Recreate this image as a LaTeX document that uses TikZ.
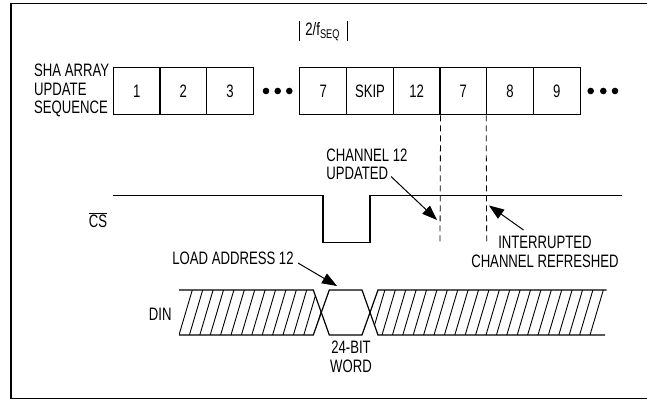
\documentclass[tikz,border=0pt]{standalone}
\usepackage{fontspec}
\setmainfont[FakeStretch=0.73]{Liberation Sans}
\usetikzlibrary{arrows.meta}
\usetikzlibrary{calc}

\tikzset{
  lbl/.style={inner sep=0pt, font=\fontsize{18}{18.5}\selectfont},
  cell/.style={lbl, draw, line width=1pt, minimum width=46.67pt, minimum height=47.3pt},
  pointer/.style={line width=1pt, -{Triangle[length=15pt,width=11pt]}},
  guide/.style={line width=0.8pt, dash pattern=on 6pt off 4pt},
  wave/.style={line width=1.2pt},
  hatch/.style={line width=0.9pt},
}

\begin{document}
\begin{tikzpicture}[x=1pt, y=-1pt]
    \useasboundingbox (0,0) rectangle (647,401);
    % frame, open on the right
    \draw[line width=1.8pt] (648,3.5) -- (11,3.5) -- (11,398.5) -- (648,398.5);

    % update sequence
    \node[lbl, anchor=west, align=left] (seq) at (34,90.5) {SHA ARRAY\\UPDATE\\SEQUENCE};
    \foreach \x/\t/\n in {136.7/1/c1, 183.3/2/c2, 230.0/3/c3,
                         323.3/7/c7, 370.0/SKIP/cskip, 416.7/12/c12,
                         463.3/7/c7b, 510.0/8/c8, 556.7/9/c9}
        \node[cell] (\n) at (\x,91.3) {\t};
    \foreach \x in {266.0, 277.7, 289.3, 590.7, 603.3, 615.0}
        \fill (\x,91) circle (3.3pt);

    % period marker
    \node[lbl] (per) at (322.7,32) {2/f\textsubscript{SEQ}};
    \draw[line width=1pt] ($(c7.north west)+(0,-25.7)$) -- ++(0,-20);
    \draw[line width=1pt] ($(c7.north east)+(0,-25.7)$) -- ++(0,-20);

    % guide lines
    \coordinate (g1) at (440,245);
    \coordinate (g2) at (486.7,245);
    \draw[guide] (c12.south east) -- (g1);
    \draw[guide] (c8.south west) -- (g2);

    % chip select
    \node[lbl] (cs) at (98,220) {$\overline{\mbox{CS}}$};
    \draw[wave] (113.3,195.7) -- (323,195.7) -- (323,242.7) -- (370,242.7)
                -- (370,195.7) -- (621.7,195.7);

    \node[lbl, anchor=west, align=left] (upd) at (326.2,164.5) {CHANNEL 12\\UPDATED};
    \coordinate (updA) at (391,176.5);
    \coordinate (updB) at (437,220);
    \draw[pointer] (updA) -- (updB);

    \node[lbl, align=center] (ref) at (545,252) {INTERRUPTED\\CHANNEL REFRESHED};
    \coordinate (refA) at (523.5,230);
    \coordinate (refB) at (489,205.5);
    \draw[pointer] (refA) -- (refB);

    % data in
    \node[lbl] (din) at (160.3,314) {DIN};
    \begin{scope}
        \clip (179,290) -- (313.3,290) -- (321.3,312.5) -- (313.3,335) -- (179,335) -- cycle;
        \foreach \k in {0,...,13}
            \draw[hatch] (179+10.4*\k,335) -- (192.3+10.4*\k,290);
    \end{scope}
    \begin{scope}
        \clip (378,290) -- (620,290) -- (620,335) -- (378,335) -- (370,312.5) -- cycle;
        \foreach \k in {0,...,22}
            \draw[hatch] (590-10.4*\k,335) -- (603.3-10.4*\k,290);
    \end{scope}
    \draw[wave] (179,290) -- (313.3,290) -- (329.3,335) -- (362,335) -- (378,290) -- (606.7,290);
    \draw[wave] (179,335) -- (313.3,335) -- (329.3,290) -- (362,290) -- (378,335) -- (605,335);

    \node[lbl, align=center] (word) at (351,357) {24-BIT\\WORD};
    \node[lbl] (load) at (233,258.3) {LOAD ADDRESS 12};
    \coordinate (loadA) at (298,263);
    \coordinate (loadB) at (337,286);
    \draw[pointer] (loadA) -- (loadB);
\end{tikzpicture}
\end{document}
